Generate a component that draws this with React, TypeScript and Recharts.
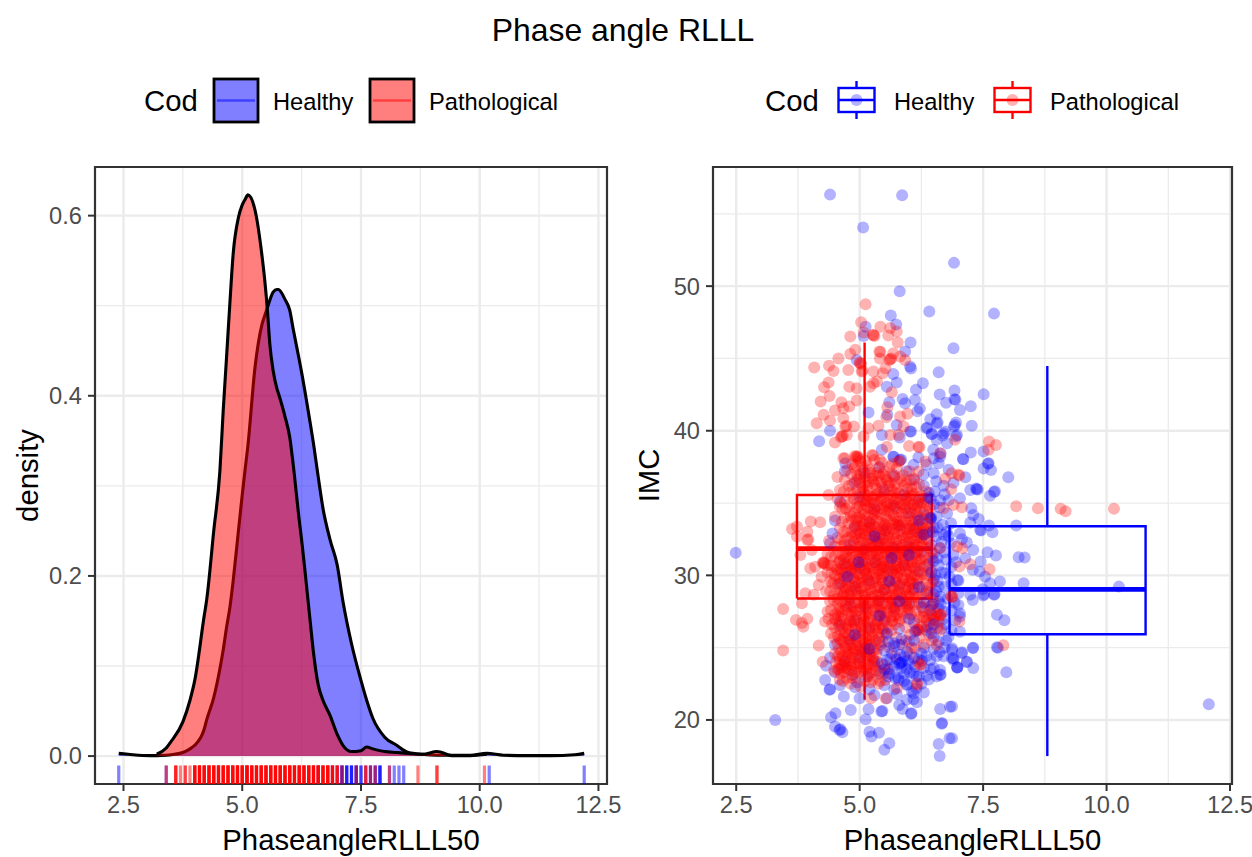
import React from "react";
import {
  ComposedChart, ScatterChart, Area, Scatter, XAxis, YAxis, CartesianGrid, ReferenceArea,
} from "recharts";

const FONT = '"Liberation Sans", Arial, sans-serif';
const BLUE = "#0000FF";
const RED = "#FF0000";

// ---- left panel: density ----
const densityX = [2.4,2.6,2.9,3.2,3.4,3.5,3.75,3.9,4,4.2,4.25,4.4,4.53,4.6,4.67,4.74,4.81,4.92,5,5.06,5.12,5.27,5.41,5.48,5.53,5.58,5.65,5.73,5.76,5.9,6,6.07,6.2,6.25,6.43,6.5,6.6,6.7,6.85,7,7.12,7.3,7.5,7.62,7.75,8,8.25,8.5,8.8,9.1,9.45,9.8,10.15,10.5,11,11.5,12,12.2];
const densityHealthy = [.003,.002,.0006,.0005,.001,.0015,.004,.008,.012,.03,.04,.065,.097,.118,.143,.165,.195,.25,.29,.318,.345,.432,.478,.49,.498,.506,.515,.518,.518,.507,.495,.475,.44,.426,.37,.347,.31,.275,.24,.212,.172,.125,.084,.062,.042,.021,.012,.004,.002,.001,.001,.001,.003,.001,.0005,.0005,.0015,.003];
const densityPathological = [null,null,null,.002,.009,.016,.038,.062,.084,.156,.173,.25,.317,.384,.443,.503,.558,.598,.612,.618,.623,.606,.558,.525,.495,.458,.428,.408,.403,.377,.354,.325,.262,.24,.15,.115,.079,.062,.045,.024,.012,.005,.006,.01,.008,.005,.004,.003,.002,.005,.0003,.0005,.002,null,null,null,null,null];

const rugHealthy = [2.4,3.4,5.1,6.6,6.9,7,7.1,7.1,7.1,7.2,7.2,7.2,7.3,7.3,7.3,7.4,7.4,7.4,7.5,7.5,7.6,7.7,7.7,7.8,7.8,7.9,7.9,7.9,8.1,8.2,8.3,8.4,10.2,12.2];
const rugPathological = [3.4,3.6,3.6,3.6,3.7,3.8,3.8,3.9,
  4,4.1,4.2,4.3,4.4,4.5,4.6,4.7,4.8,4.9,5,5.1,5.2,5.3,5.4,5.5,5.6,5.7,5.8,5.9,6,6.1,6.2,6.3,6.4,6.5,6.6,6.7,6.8,6.9,7,
  4,4.1,4.2,4.3,4.4,4.5,4.6,4.7,4.8,4.9,5,5.1,5.2,5.3,5.4,5.5,5.6,5.7,5.8,5.9,6,6.1,6.2,6.3,6.4,6.5,6.6,6.7,6.8,6.9,7,
  4,4.1,4.2,4.3,4.4,4.5,4.6,4.7,4.8,4.9,5,5.1,5.2,5.3,5.4,5.5,5.6,5.7,5.8,5.9,6,6.1,6.2,6.3,6.4,6.5,6.6,6.7,6.8,6.9,7,
  4,4.1,4.2,4.3,4.4,4.5,4.6,4.7,4.8,4.9,5,5.1,5.2,5.3,5.4,5.5,5.6,5.7,5.8,5.9,6,6.1,6.2,6.3,6.4,6.5,6.6,6.7,6.8,6.9,
  4,4.1,4.2,4.3,4.4,4.5,4.6,4.7,4.8,4.9,5,5.1,5.2,5.3,5.4,5.5,5.6,5.7,5.8,5.9,6,6.1,6.2,6.3,6.4,6.5,6.6,6.7,6.8,
  7.1,7.4,7.6,7.6,7.7,7.8,8.1,8.7,9.1,9.1,10.1];

const leftMajorX = [2.5,5,7.5,10,12.5];
const leftMinorX = [3.75,6.25,8.75,11.25];
const leftMajorY = [0,0.2,0.4,0.6];
const leftMinorY = [0.1,0.3,0.5];
const leftDomainX = [1.9,12.68];
const leftDomainY = [-0.031,0.654];

// ---- right panel: points and boxes ----
const rightMajorX = [2.5,5,7.5,10,12.5];
const rightMinorX = [3.75,6.25,8.75,11.25];
const rightMajorY = [20,30,40,50];
const rightMinorY = [25,35,45,55];
const rightDomainX = [2.03,12.54];
const rightDomainY = [15.57,58.24];

const boxHealthy = { left: 6.82, right: 10.79, center: 8.8, q1: 25.93, median: 29.03, q3: 33.4, low: 17.5, high: 44.48 };
const boxPathological = { left: 3.73, right: 6.46, center: 5.1, q1: 28.4, median: 31.85, q3: 35.56, low: 21.4, high: 46.1 };

const healthyOuter = [
[4.4,56.33],[5.86,56.29],[5.07,54.05],[6.91,51.61],[5.81,49.65],[6.41,48.24],[7.72,48.1],[6.9,45.71],[5.63,47.97],[5.74,47.34],[5.12,47.2],[5.08,46.56],[6.03,46.1],[5.92,45.48],[6.02,44.44],[6.04,44.3],[4.94,44.9],[6.6,44.05],[5.68,43.93],[5.75,43.33],[6.28,43.29],[5.55,43.05],[6.14,42.83],[6.92,42.78],[7.51,42.53],[6.62,42.5],[5.87,42.2],[6.92,42.18],[6.94,42.14],[5.92,41.9],[6.12,42.13],[6.75,41.93],[7.25,41.7],[5.6,41.97],[7.03,41.44],[6.22,41.53],[6.17,41.35],[5.18,41.26],[5.56,41.1],[6.56,41.14],[6.43,40.8],[6.58,40.57],[6.95,40.57],[7.27,40.34],[6.91,40.29],[6.35,40.17],[6.37,40.2],[6.46,39.76],[6.74,39.94],[6.68,39.67],[6.97,39.7],[6.77,39.14],[6.04,39.94],[5.81,39.53],[5.75,40.4],[5.45,39.7],[4.4,40],[4.18,39.28],[7.51,38.56],[7.25,38.49],[7.1,38.03],[7.61,37.75],[6.19,38.17],[6.49,38.68],[6.63,38.2],[5.45,38.68],[5.68,38.2],[4.71,37.75],
[7.6,37.71],[7.51,37.39],[7.66,37.29],[8.01,36.79],[7.14,36.79],[7.37,35.96],[7.36,36],[7.39,35.93],[7.24,35.91],[7.72,35.77],[7.74,35.82],[7.64,35.5],[7.03,35.33],[7.26,34.64],[7.3,34.18],[7.41,33.9],[7.24,33.65],[7.62,33.44],[8.17,33.44],[7.44,33.14],[7.46,33.1],[7.69,32.98],[7.03,32.9],[7.07,32.5],[7.17,32.27],[7.3,31.76],[7.59,31.6],[7.76,31.37],[8.22,31.25],[8.34,31.23],[7.45,30.95],[7.14,31.18],[7.29,30.38],[7.43,30.26],[7.54,29.9],[7.84,29.57],[7.64,29.46],[8.32,29.46],[10.25,29.22],[7.49,29.04],[7.5,28.6],[7.52,28.68],[7.72,28.65],[7.73,28.7],[7.29,28.3],[7.24,28.65],[7.78,27.27],[7.93,26.9],[7.03,27.15],[7.03,26.1],[7.29,24.98],[7.8,25],[7.07,24.61],[7.17,24],[6.9,24.27],[7.3,23.6],[6.98,23.62],[7.97,23.3],[12.07,21.09],[6.87,20.93],[6.87,18.74],
[2.49,31.57],[3.29,20],[4.68,21.62],[4.82,20.69],[4.42,20.19],[4.51,20.46],[4.5,19.54],[4.59,19.31],[4.61,19.35],[4.65,19.15],[5.12,20.05],[5.18,20.74],[5.2,19.19],[5.39,19.12],[5.24,18.85],[5.5,17.93],[5.6,18.39],[5.44,20.58],[5.46,20.62],[5.8,21.04],[5.87,20.76],[6.04,20.42],[6.05,20.46],[6.16,21.22],[6.09,21.43],[6.63,20.76],[6.83,20.92],[6.66,19.73],[6.67,19.78],[6.82,18.73],[6.6,18.34],[6.62,17.51],[4.39,22.08],[4.4,22.12],[4.3,22.77],[4.32,23.74],[4.91,22.26],[6.63,23.11],[6.64,23.15],[6.63,23.46],[6.97,23.62],[7.17,24.02],[7.07,24.68],[6.9,24.15],[6.87,24.84],[7.3,25],[7.78,25.02],[6.36,23.05],[5.95,22.42],[5.97,22.46],[5.79,22.77],[6.06,21.96],[6.8,25.76],[6.87,24.95],[6.87,24.26],[6.98,23.64],[7.0,28.76],[7,27.95],[7.03,27.37],[6.98,29.68],[7,29.62],[6.73,30.14],[6.6,30.7],[6.53,30.02],[6.6,29.22],[6.63,28.52],[6.43,27.6],[6.36,26.45],
[6.56,40.5],[6.93,40.4],[6.02,39.95],[6.46,39.8],[6.7,39.83],[6.95,39.6],[6.56,39.37],[7.09,38.05],[6.64,38.42],[6.5,38.1],[6.36,37.64],[6.6,37.75],[6.09,37.64],[5.69,38.2],[5.82,37.98],[5.84,38.02],[6.5,37.06],[6.29,36.95],[6.8,35.2],[6.63,35.2],[6.43,33.95],[6.44,33.9],[6.42,34],[6.45,33.98],[6.56,34.06],[6.77,34.3],[6.85,33.6],[6.7,32.8],[6.85,32.2],[6.62,31.9],[6.9,31.4],[6.75,31.1],[6.95,30.9],[6.5,31.5],[6.55,32.7],[6.68,33.5],[6.7,36.2],[6.9,36.4],[6.55,36.5],[6.8,37.3]
];

const healthyCore = [
[4.7,37.2],[4.9,36.4],[5.1,37.1],[5.4,37.5],[5.7,36.9],[5.95,37.2],[6.1,36.6],[6.3,36.2],[5.5,35.9],[5.9,35.6],[6.2,35.2],[6.4,35.7],[4.6,35.1],[5,35.4],[5.3,34.6],[5.7,34.8],[6,34.3],[6.3,34.2],[6.5,34.9],[4.5,33.8],[4.9,33.3],[5.2,33.6],[5.5,33.1],[5.8,33.4],[6.1,33.2],[6.35,32.9],[6.5,33.3],[4.4,32.2],[4.8,32.1],[5.1,31.8],[5.4,32.3],[5.7,31.9],[6,32],[6.25,31.6],[6.45,32.1],[4.7,30.8],[5,30.5],[5.3,30.9],[5.6,30.4],[5.9,30.7],[6.2,30.3],[6.4,30.8],[6.5,29.7],[4.6,29.4],[4.9,29.2],[5.2,29.6],[5.5,29],[5.8,29.3],[6.1,29.1],[6.35,28.9],[6.5,28.7],[6.6,28.2],[4.8,28],[5.1,27.8],[5.4,28.2],[5.7,27.7],[6,28],[6.25,27.8],[6.45,27.3],[6.6,27.7],[6.7,27],[4.6,26.6],[4.9,26.9],[5.2,26.4],[5.5,26.8],[5.8,26.3],[6.1,26.7],[6.35,26.2],[6.5,25.7],[6.65,26.3],[6.75,25.5],[4.5,25.2],[4.8,25.5],[5.1,25],[5.4,25.4],[5.7,25.1],[6,25.4],[6.3,25],[6.5,24.9],[6.62,24.7],[4.4,24.3],[4.7,24],[5,24.3],[5.3,24.1],[5.55,24.15],[5.82,23.92],[5.84,23.96],[5.8,23.88],[6.09,23.22],[6.2,24.2],[6.43,24.14],[6.5,23.6],[4.5,23.3],[4.85,23.1],[5.15,23],[5.4,23.2],[5.6,23.5],[5.9,23.2],[6.2,23],[6.4,22.8],[4.6,22.4],[4.95,22.6],[5.2,22.1],[5.5,22.4],[5.7,22.1],[5.9,22.7],[6.15,22.2],[6.3,21.9],[5,21.5],[5.3,21.7],[5.55,21.5],[5.75,21.8],[5.95,21.4],[6.09,21.84],[6.25,22.5],
[6.52,35.8],[6.62,34.7],[6.72,35.6],[6.58,33.3],[6.76,33],[6.66,32.3],[6.8,32.7],[6.58,31.2],[6.72,31.6],[6.86,30.6],[6.66,30.2],[6.82,29.9],[6.58,29.6],[6.72,29.2],[6.86,29.4],[6.64,28],[6.78,28.4],[6.92,28.1],[6.7,27.5],[6.86,27.6],[6.94,26.9],[6.74,26.6],[6.86,26.2],[6.6,25.4],[6.72,25],[6.56,24.4],[6.7,24.4],[6.44,23.5],[6.56,23],[6.3,23.6],[6.12,23.7],[5.98,24.1],[6.26,24.1]
];

const pathologicalOuter = [
[5.12,48.75],[5.03,47.5],[5.42,47.2],[5.62,47.1],[4.81,46.51],[5.08,46.8],[5.28,46.6],[5.27,46.64],[5.3,46.55],[5.58,46.58],[5.75,46.86],[5.77,46.1],[4.91,45.6],[4.81,45.3],[4.57,45],[5.4,45.48],[5.42,45.44],[5.41,45],[5.68,45.36],[5.62,44.95],[5.64,45],[5.6,44.9],[5.82,45.13],[5.92,44.9],[4.08,44.37],[4.38,44.49],[4.47,44.14],[4.77,44.2],[5.01,44.67],[5.03,44.62],[5,44.72],[5.04,44.1],[5.06,44.15],[5.28,44.1],[5.52,44.32],[5.47,43.98],[4.37,43.33],[4.28,43.01],[4.79,43.05],[4.94,42.94],[5.21,43.05],[5.35,43.4],[5.28,43.29],[5.65,42.66],[4.39,42.41],[4.21,42.02],[4.63,41.97],[4.94,42.09],[4.79,41.67],[4.67,41.56],[4.5,41.4],[4.27,41.1],[5.56,41.63],[5.97,41.17],[5.82,40.98],[5.54,40.94],[4.67,40.87],[4.4,40.7],[4.13,40.52],[4.71,40.29],[4.73,40.33],[4.88,40.29],[5.38,40.34],[5.18,40.17],[5.89,40.29],[4.64,39.6],[4.66,39.64],[4.62,39.55],[4.74,39.7],[4.5,39.18],[5.08,39.6],[5.62,39.7],[5.79,39.7],[6,38.95],[6.19,38.9],[6.21,38.86],[5.55,38.9],[6.93,39.37],[7.62,39.25],[7.76,39.02],[7.61,38.68],[4.94,38.2],[4.96,38.24],[4.92,38.16],[4.98,38.1],[4.9,38.26],[4.67,38.1],[5.25,38.33],[5.27,38.28],[5.41,37.98],[5.79,37.87],[5.81,37.9],[6.33,37.87],[6.63,38.45],
[8.17,34.78],[8.61,34.64],[9.07,34.6],[9.17,34.44],[10.15,34.6],[7.07,34.71],[6.9,34.87],[7.63,30.42],[7.24,30.77],[7.02,30.61],[7.08,31.87],[7.02,26.8],[7.91,25.17],[5.53,21.48],[5.23,21.5],[6.16,22.54],
[3.45,27.68],[3.45,24.8],[3.71,26.92],[3.94,26.99],[3.86,26.45],[3.83,26.7],[4.17,25.14],[4.25,24.03],[3.63,33.2],[3.73,33.37],[3.73,32.68],[3.94,33.02],[3.94,32.45],[3.96,32.5],[4.01,33.72],[4.2,33.67],[4.38,32.4],[4.5,34.06],[4.6,34.75],[4.37,35.56],[3.8,31.41],[4.03,31.76],[4,30.49],[4.1,30.6],[4.27,30.84],[4.29,30.8],[4.25,30.88],[4.17,29.34],[3.9,28.76],[3.83,28.07],[4.07,28.65],[4.23,29.9],[4.44,29.45],
[6.86,37.06],[7,36.95],[7.02,36.9],[6.73,36.7],[6.85,35.95],[6.19,37.18],[6.7,34.64],[6.63,31.88],[6.97,32],[6.87,28.52],[6.88,28.48],[6.85,28.56],[6.56,25.18],[6.63,27.26],[6.65,27.3],[6.61,27.2],[6.5,26.91],[6.52,26.95],[6.29,27.14],[6.31,27.1],[6.16,26.22],[6.18,26.26],[6.14,26.18],[6.2,26.2],[6.22,23.8],[6.24,23.85],[6.12,24.95],[5.75,22.2],[5.52,22.76],[6.16,22.42]
];

const pathologicalCore = [
[4.7,38.1],[4.85,37.7],[5,37.9],[5.15,37.6],[5.3,38],[5.45,37.8],[5.6,37.5],[4.9,37.4],[5.05,37.5],[5.2,37.3],[5.5,37.2],[4.75,37.3],[5.75,37.4],[6,37.2],[5.35,37.1],[4.95,36.9],[5.1,36.8],[5.25,36.7],[5.4,36.9],[5.55,36.6],[5.7,36.8],[5.85,36.5],[6.1,36.7],[4.7,36.6],[4.85,36.3],[5,36.4],[5.15,36.2],[5.3,36.3],[5.45,36.1],[5.6,36.2],[5.75,36],[5.9,36.2],[6.05,36],[6.2,36.3],[4.6,35.9],[4.8,35.7],[4.95,35.9],[5.1,35.6],[5.2,35.8],[5.35,35.6],[5.5,35.7],[5.65,35.5],[5.8,35.7],[5.95,35.4],[6.1,35.6],[6.25,35.5],[6.35,35.8],[4.55,35.3],[4.7,35.1],[4.88,35.3],[5.02,35.1],[5.15,35.2],[5.28,35],[5.42,35.2],[5.56,35],[5.7,35.1],[5.84,34.9],[6,35],[6.16,34.8],[6.3,35],[6.42,34.7],[4.65,34.6],[4.8,34.4],[4.95,34.7],[5.08,34.5],[5.22,34.6],[5.36,34.4],[5.5,34.5],[5.64,34.3],[5.78,34.4],[5.92,34.6],[6.06,34.3],[6.22,34.4],[6.38,34.2],[4.7,34],[4.85,33.8],[5,34],[5.13,33.7],[5.27,33.9],[5.4,33.7],[5.55,33.9],[5.68,33.6],[5.83,33.8],[5.97,33.6],[6.12,33.8],[6.27,33.6],[6.42,33.4],[4.6,33.3],[4.75,33.1],[4.9,33.4],[5.05,33.2],[5.18,33.3],[5.32,33],[5.46,33.2],[5.6,33],[5.74,33.3],[5.88,33],[6.02,33.2],[6.17,33],[6.33,33.2],[4.55,32.6],[4.7,32.4],[4.84,32.7],[4.98,32.5],[5.12,32.7],[5.26,32.4],[5.4,32.6],[5.53,32.4],[5.67,32.6],[5.81,32.4],[5.95,32.7],[6.1,32.4],[6.24,32.6],[6.4,32.4],[4.62,32],[4.78,31.8],[4.92,32],[5.06,31.8],[5.2,32],[5.34,31.7],[5.48,31.9],[5.62,31.7],[5.76,32],[5.9,31.7],[6.04,31.9],[6.18,31.7],[6.34,31.9],[6.46,31.6],[4.35,31.5],[4.5,31.3],[4.65,31.4],[4.8,31.2],[4.94,31.4],[5.08,31.2],[5.22,31.4],[5.36,31.1],[5.5,31.3],[5.64,31.1],[5.78,31.3],[5.92,31.1],[6.06,31.3],[6.22,31.1],[6.38,31.2],[4.28,30.9],[4.42,30.7],[4.58,30.9],[4.72,30.6],[4.86,30.8],[5,30.6],[5.14,30.8],[5.28,30.5],[5.42,30.7],[5.56,30.5],[5.7,30.7],[5.84,30.5],[5.98,30.7],[6.13,30.5],[6.3,30.6],[6.44,30.4],[4.35,30.2],[4.5,30],[4.64,30.2],[4.78,30],[4.92,30.2],[5.06,29.9],[5.2,30.1],[5.34,29.9],[5.48,30.1],[5.62,29.9],[5.76,30.1],[5.9,29.8],[6.04,30],[6.2,29.8],[6.36,30],[4.4,29.6],[4.56,29.4],[4.7,29.6],[4.84,29.3],[4.98,29.5],[5.12,29.3],[5.26,29.5],[5.4,29.2],[5.54,29.4],[5.68,29.2],[5.82,29.4],[5.96,29.2],[6.1,29.4],[6.26,29.2],[6.42,29.3],[4.32,28.9],[4.48,28.7],[4.62,28.9],[4.76,28.7],[4.9,28.9],[5.04,28.6],[5.18,28.8],[5.32,28.6],[5.46,28.8],[5.6,28.5],[5.74,28.7],[5.88,28.5],[6.02,28.7],[6.18,28.5],[6.34,28.7],[6.48,28.5],[4.4,28.2],[4.55,28],[4.7,28.2],[4.84,27.9],[4.98,28.1],[5.12,27.9],[5.26,28.1],[5.4,27.8],[5.54,28],[5.68,27.8],[5.82,28],[5.96,27.8],[6.12,28],[6.28,27.8],[6.44,27.9],[4.35,27.5],[4.5,27.3],[4.64,27.5],[4.78,27.3],[4.92,27.5],[5.06,27.2],[5.2,27.4],[5.34,27.2],[5.48,27.4],[5.62,27.1],[5.76,27.3],[5.9,27.1],[6.04,27.3],[6.2,27.1],[6.4,27.2],[6.56,27.4],[4.3,26.8],[4.44,26.6],[4.6,26.8],[4.74,26.5],[4.88,26.7],[5.02,26.5],[5.16,26.7],[5.3,26.4],[5.44,26.6],[5.58,26.4],[5.72,26.6],[5.94,26.4],[6.28,26.5],[6.42,26.7],[6.58,26.4],[4.42,26],[4.56,25.8],[4.7,26],[4.84,25.8],[4.98,26],[5.12,25.7],[5.26,25.9],[5.4,25.7],[5.54,25.9],[5.74,25.7],[6.02,25.9],[6.22,25.7],[6.4,25.9],[4.55,25.3],[4.7,25.1],[4.85,25.3],[5,25.1],[5.14,25.3],[5.28,25],[5.42,25.2],[5.6,25],[5.86,25.2],[6.06,25],[6.3,25.2],[4.5,24.6],[4.65,24.4],[4.78,24.7],[4.92,24.5],[5.06,24.7],[5.2,24.4],[5.34,24.6],[5.72,24.4],[6.02,24.6],[4.52,24],[4.66,23.8],[4.8,24.1],[4.94,23.9],[5.08,24],[5.22,23.8],[5.36,24],[5.5,23.8],[6.18,24],[4.48,23.4],[4.62,23.2],[4.76,23.5],[4.9,23.3],[5.04,23.4],[5.2,23.2],[5.34,23.4],[5.48,23.2],[5.56,23.5],[4.6,22.8],[4.74,22.9],[5.1,22.7],[5.28,22.8],[5.42,22.7],[5.02,22.3],
[4.55,36.8],[5.02,37],[5.18,36.5],[5.38,36.5],[5.62,36.4],[5.08,35.9],[5.25,35.4],[5.48,35.4],[5.75,35.3],[6.02,35.5],[5.12,34.9],[5.35,34.8],[5.6,34.7],[5.9,34.9],[6.12,34.6],[5.1,34.2],[5.3,34.2],[5.52,34.1],[5.74,34],[5.98,34.1],[6.24,33.9],[5.08,33.5],[5.3,33.4],[5.52,33.5],[5.78,33.5],[6.08,33.5],[5,32.9],[5.2,32.8],[5.44,32.8],[5.7,32.9],[5.98,32.9],[6.22,32.9],[4.88,32.3],[5.14,32.2],[5.36,32.2],[5.6,32.2],[5.88,32.1],[6.12,32.1],[4.72,31.6],[5,31.6],[5.26,31.6],[5.54,31.6],[5.82,31.5],[6.12,31.5],[4.6,31],[4.88,31],[5.1,31],[5.32,30.9],[5.58,30.9],[5.88,30.9],[6.16,30.9],[4.55,30.4],[4.84,30.4],[5.12,30.4],[5.38,30.3],[5.66,30.3],[5.94,30.3],[6.24,30.2],[4.6,29.8],[4.9,29.7],[5.16,29.7],[5.44,29.7],[5.72,29.6],[6,29.6],[4.68,29.1],[4.94,29],[5.22,29],[5.5,29],[5.78,28.9],[6.06,29],[4.56,28.4],[4.82,28.4],[5.1,28.3],[5.38,28.3],[5.66,28.3],[5.94,28.2],[4.6,27.7],[4.88,27.7],[5.16,27.7],[5.44,27.6],[5.72,27.6],[6,27.6],[4.5,27],[4.8,26.9],[5.08,27],[5.36,26.9],[5.66,26.9],[4.65,26.3],[4.92,26.2],[5.2,26.2],[5.5,26.1],[4.6,25.6],[4.92,25.6],[5.2,25.5],[4.72,24.8],[5,24.8],[5.28,24.8],[4.6,24.2],[4.86,24.3],[5.14,24.3],[4.7,23.6],[5,23.7],[5.3,23.7],[4.85,22.9],[5.18,23]
];

const pathologicalDense = [
[4.92,37.6],[5.12,37.9],[5.38,37.4],[5.66,37.7],[4.83,37],[5.07,37.2],[5.28,36.9],[5.47,37],[5.66,37],[5.88,36.9],[6.03,36.6],[4.78,36.2],[4.94,36.6],[5.12,36.4],[5.27,36.5],[5.43,36.4],[5.58,36.4],[5.72,36.3],[5.95,36.4],[6.14,36.1],[4.68,35.8],[4.88,35.6],[5.02,35.7],[5.17,35.5],[5.3,35.5],[5.43,35.8],[5.58,35.6],[5.72,35.7],[5.87,35.5],[6.05,35.7],[6.2,35.4],[6.32,35.3],[4.62,35],[4.8,34.9],[4.94,35],[5.08,35.2],[5.22,35],[5.36,35.1],[5.5,34.9],[5.64,34.9],[5.78,35],[5.93,35.1],[6.07,34.9],[6.24,35],[6.38,34.9],[4.72,34.6],[4.88,34.3],[5.03,34.3],[5.16,34.7],[5.3,34.5],[5.44,34.6],[5.58,34.5],[5.72,34.6],[5.86,34.3],[6.02,34.6],[6.16,34.2],[6.32,34.5],[4.64,33.7],[4.78,33.6],[4.93,33.8],[5.06,33.8],[5.2,33.7],[5.34,33.8],[5.48,33.6],[5.62,33.8],[5.76,33.7],[5.9,33.7],[6.05,33.8],[6.2,33.5],[6.36,33.6],[4.68,33],[4.83,33],[4.97,33.1],[5.12,33.1],[5.25,33.1],[5.39,33],[5.53,33.1],[5.67,33.2],[5.81,33.1],[5.95,33.2],[6.1,33],[6.26,33],[6.42,33],[4.62,32.5],[4.76,32.6],[4.92,32.6],[5.05,32.6],[5.19,32.5],[5.33,32.6],[5.47,32.5],[5.6,32.6],[5.74,32.5],[5.88,32.6],[6.03,32.5],[6.17,32.6],[6.32,32.5],[4.5,32],[4.7,32.1],[4.85,31.9],[5,32],[5.13,31.9],[5.27,32],[5.41,31.9],[5.55,32],[5.69,31.8],[5.83,31.9],[5.97,31.8],[6.11,31.9],[6.26,32],[6.42,31.9],[4.42,31.3],[4.58,31.5],[4.72,31.3],[4.87,31.5],[5.01,31.3],[5.15,31.5],[5.29,31.3],[5.43,31.5],[5.57,31.3],[5.71,31.4],[5.85,31.3],[5.99,31.4],[6.14,31.3],[6.3,31.4],[6.46,31.2],[4.35,30.7],[4.5,30.6],[4.65,30.7],[4.79,30.7],[4.93,30.7],[5.07,30.7],[5.21,30.6],[5.35,30.7],[5.49,30.6],[5.63,30.7],[5.77,30.6],[5.91,30.7],[6.06,30.6],[6.22,30.7],[6.37,30.7],[4.43,30.2],[4.57,30.2],[4.71,30.2],[4.85,30.2],[4.99,30.1],[5.13,30.1],[5.27,30.2],[5.41,30.1],[5.55,30.2],[5.69,30.1],[5.83,30.2],[5.97,30],[6.12,30],[6.28,30.1],[6.43,30],[4.48,29.5],[4.63,29.5],[4.77,29.5],[4.91,29.5],[5.05,29.5],[5.19,29.4],[5.33,29.5],[5.47,29.5],[5.61,29.5],[5.75,29.5],[5.89,29.4],[6.03,29.5],[6.18,29.4],[6.34,29.4],[6.48,29.5],[4.4,28.9],[4.55,28.8],[4.69,28.8],[4.83,28.9],[4.97,28.8],[5.11,28.7],[5.25,28.8],[5.39,28.7],[5.53,28.8],[5.67,28.7],[5.81,28.8],[5.95,28.7],[6.1,28.8],[6.26,28.7],[6.41,28.8],[4.47,28.3],[4.63,28.2],[4.77,28.3],[4.91,28.1],[5.05,28.2],[5.19,28.1],[5.33,28.2],[5.47,28.1],[5.61,28.2],[5.75,28.1],[5.89,28.2],[6.04,28.1],[6.2,28.1],[6.36,28.2],[6.5,28.1],[4.42,27.6],[4.57,27.6],[4.71,27.6],[4.85,27.5],[4.99,27.6],[5.13,27.5],[5.27,27.6],[5.41,27.5],[5.55,27.5],[5.69,27.5],[5.83,27.5],[5.97,27.4],[6.12,27.5],[6.3,27.5],[6.48,27.6],[4.37,27],[4.52,26.9],[4.67,27],[4.81,26.8],[4.95,26.9],[5.09,26.8],[5.23,26.9],[5.37,26.8],[5.51,26.9],[5.65,26.8],[5.8,26.8],[6.1,26.9],[6.36,26.9],[6.5,27.1],[6.6,26.8],[4.5,26.4],[4.62,26.2],[4.77,26.3],[4.91,26.4],[5.05,26.2],[5.19,26.3],[5.33,26.2],[5.47,26.3],[5.64,26.2],[6.24,26.4],[6.44,26.3],[6.62,26.2],[4.48,25.7],[4.63,25.5],[4.78,25.6],[4.91,25.4],[5.06,25.5],[5.19,25.6],[5.33,25.5],[5.47,25.4],[5.94,25.5],[6.46,25.5],[4.58,24.9],[4.72,25],[4.86,24.9],[5.03,24.9],[5.17,24.9],[5.36,24.9],[4.56,24.4],[4.72,24.3],[4.85,24.6],[5,24.4],[5.13,24.5],[5.27,24.3],[4.6,23.9],[4.73,23.7],[4.87,23.8],[5.01,23.9],[5.15,23.8],[5.29,23.9],[4.55,23.5],[4.69,23.3],[4.83,23.4],[4.97,23.3],[5.11,23.4],[5.26,23.3],[5.41,23.4],[4.66,22.7],[4.82,22.5],[5.22,22.6],[5.38,22.5],
[4.95,34],[5.25,33.5],[5.55,33.3],[5.85,33.5],[6.15,33.3],[4.95,33.5],[5.35,32.3],[5.65,31.9],[5.95,32.2],[6.25,32.3],[5.05,31.5],[5.35,31.4],[5.65,31.5],[5.95,31.6],[4.75,30.9],[5.05,30.9],[5.45,30.9],[5.75,30.9],[6.05,30.9],[4.8,30.3],[5.1,30.3],[5.42,30.4],[5.72,30.4],[6.02,30.3],[4.85,29.8],[5.15,29.9],[5.45,29.9],[5.75,29.9],[6.05,29.8],[4.72,29.1],[5.02,29.1],[5.32,29.1],[5.62,29.1],[5.92,29],[4.8,28.5],[5.1,28.5],[5.42,28.5],[5.72,28.4],[6,28.5],[4.72,27.9],[5.02,27.8],[5.32,27.8],[5.62,27.8],[5.9,27.8],[4.62,27.2],[4.92,27.2],[5.22,27.1],[5.52,27.1],[5.82,27],[4.72,26.6],[5.02,26.7],[5.32,26.6],[4.78,25.9],[5.08,26],[5.38,26],[4.8,25.2],[5.1,25.3],[4.78,24.5],[5.12,24.7],[4.8,23.9],[5.08,23.6],[4.62,23.6],[4.92,23]
];

const pathologicalPeak = [
[4.98,36.7],[5.21,37.1],[5.52,36.8],[5.81,36.7],[5.06,36.1],[5.34,36],[5.66,35.9],[5.97,36],[5.14,35.1],[5.44,35.3],[5.69,35.3],[5.98,35.3],[6.18,35],[5,34.8],[5.27,34.3],[5.56,34.8],[5.82,34.7],[6.1,34.9],[4.82,34.1],[5.17,34.1],[5.42,34.2],[5.69,34.1],[5.94,34.3],[6.18,34],[5.02,33.4],[5.22,33.3],[5.47,33.4],[5.72,33.5],[6.02,33.4],[6.28,33.3],[4.9,32.8],[5.1,32.9],[5.3,32.9],[5.58,32.8],[5.84,32.8],[6.06,32.8],[6.3,32.8],[5.02,32.3],[5.24,32.2],[5.5,32.2],[5.74,32.3],[6,32.3],[6.2,32.2],[4.82,31.7],[5.12,31.7],[5.38,31.7],[5.6,31.6],[5.88,31.6],[6.16,31.6],[4.68,31.1],[4.98,31.1],[5.24,31.1],[5.5,31],[5.74,31.1],[6,31.1],[6.26,31.1],[4.62,30.4],[4.9,30.5],[5.18,30.5],[5.48,30.5],[5.8,30.4],[6.1,30.5],[4.68,29.9],[5,29.8],[5.3,29.8],[5.58,29.7],[5.88,29.7],[6.16,29.7],[4.78,29.2],[5.08,29.2],[5.38,29.2],[5.7,29.1],[6,29.2],[4.66,28.6],[4.94,28.6],[5.24,28.5],[5.54,28.5],[5.84,28.6],[6.12,28.5],[4.76,27.8],[5.08,28],[5.36,28],[5.64,28],[5.94,28],[4.56,27.2],[4.84,27.2],[5.12,27.2],[5.42,27.3],[5.7,27.2],[4.58,26.5],[4.84,26.5],[5.12,26.4],[5.4,26.4],[4.68,25.8],[4.98,25.8],[5.26,25.7],[4.68,25.4],[4.94,25.2],[5.22,25.2],[4.62,24.7],[4.9,24.8],[5.2,24.6],[4.68,24.1],[4.98,24.1],[5.26,24.1],[4.58,23.5],[4.82,23.7],[5.14,23.5]
];

const healthyLate = [
[6.4,35.4],[6.44,35.3],[6.2,33.8],[6.3,32.8],[6,31.4],[5.3,32.7],[5.6,29.6],[6.2,29.2],[5.8,28.2],[5.4,27.2],[6,27],[6.3,28.1],[5.55,26],[5.85,25.6],[5.7,25.3],[6.1,25.5],[5.5,24.8],[5.65,24.6],[5.9,24.4],[5.75,24.2],[5.82,24.5],[5.96,24.7],[5.45,23.9],[6,23.9],[5.6,23.2],[5.84,23.6],[6.02,23.3],[5.78,22.9],[4.9,25.9],[5.2,24.9],[5.65,31.2],[4.45,32.9],[4.75,29.9],[6.12,26.1],[6.25,24.6],[6.45,26],[6.45,30.2],[6.55,28.9],[4.98,30.9],
[5.58,25.4],[5.8,25.2],[5.62,24.2],[5.86,24],[5.7,23.7],[5.95,23.5],[5.5,23.5],[5.72,22.9],[5.58,23],[6.1,24.3],[6.35,24.4],[6.15,23],[6.5,26.6],[6.48,28],[6.5,31],[6.48,33]
];

const toRows = (list: number[][]) => list.map(([x, y]) => ({ x, y }));
const densityRows = densityX.map((x, i) => ({ x, Healthy: densityHealthy[i], Pathological: densityPathological[i] }));
const rugRows = (list: number[]) => list.map((x) => ({ x, y: leftDomainY[0] }));

const Dot = (color: string) => (p: any) => <circle cx={p.cx} cy={p.cy} r={6} fill={color} fillOpacity={0.3} />;
const RugTick = (color: string) => (p: any) => (
  <line x1={p.cx} x2={p.cx} y1={p.cy} y2={p.cy - 18.5} stroke={color} strokeOpacity={0.5} strokeWidth={3.2} />
);
const NoMark = () => null;

const tickStyle = { fontSize: 23.7, fill: "#4D4D4D", fontFamily: FONT };
const labelStyle = { fontSize: 29.3, fill: "#000", fontFamily: FONT };
const tickLine = { stroke: "#333333", strokeWidth: 2 };
const minorGrid = { stroke: "#EBEBEB", strokeWidth: 1.3 };
const majorGrid = { stroke: "#EBEBEB", strokeWidth: 2.4 };

function LegendLeftKey({ x, color, lineColor }: { x: number; color: string; lineColor: string }) {
  return (
    <g>
      <rect x={x} y={79} width={44} height={43} fill={color} fillOpacity={0.5} stroke="#000" strokeWidth={2.8} />
      <line x1={x + 3} x2={x + 41} y1={100.5} y2={100.5} stroke={lineColor} strokeOpacity={0.5} strokeWidth={2.4} />
    </g>
  );
}
function LegendRightKey({ x, color }: { x: number; color: string }) {
  return (
    <g stroke={color} strokeWidth={2.4} fill="none">
      <line x1={x + 18} x2={x + 18} y1={81} y2={88} />
      <line x1={x + 18} x2={x + 18} y1={112} y2={119} />
      <rect x={x} y={88} width={36} height={24} />
      <line x1={x} x2={x + 36} y1={100} y2={100} />
      <circle cx={x + 18} cy={100} r={6} fill={color} fillOpacity={0.3} stroke="none" />
    </g>
  );
}

function Overlay() {
  const t = { fontFamily: FONT, fill: "#000" };
  return (
    <svg width={1252} height={857} style={{ position: "absolute", left: 0, top: 0 }}>
      <text x={623} y={41} textAnchor="middle" fontSize={31.9} {...t}>Phase angle RLLL</text>
      <text x={144} y={111} fontSize={29.3} {...t}>Cod</text>
      <LegendLeftKey x={214} color={BLUE} lineColor={BLUE} />
      <text x={273} y={109.5} fontSize={23.7} {...t}>Healthy</text>
      <LegendLeftKey x={370} color={RED} lineColor={RED} />
      <text x={429} y={109.5} fontSize={23.7} {...t}>Pathological</text>
      <text x={765} y={111} fontSize={29.3} {...t}>Cod</text>
      <LegendRightKey x={838.5} color={BLUE} />
      <text x={894} y={109.5} fontSize={23.7} {...t}>Healthy</text>
      <LegendRightKey x={994.5} color={RED} />
      <text x={1050} y={109.5} fontSize={23.7} {...t}>Pathological</text>
    </svg>
  );
}

function DensityPanel() {
  return (
    <div style={{ position: "absolute", left: 0, top: 0 }}>
      <ComposedChart width={630} height={857} data={densityRows} margin={{ top: 167, right: 23, bottom: 0, left: 0 }}>
        <CartesianGrid {...minorGrid} horizontalValues={leftMinorY} verticalValues={leftMinorX} />
        <CartesianGrid {...majorGrid} horizontalValues={leftMajorY} verticalValues={leftMajorX} />
        <XAxis dataKey="x" type="number" domain={leftDomainX} ticks={leftMajorX} allowDataOverflow height={73}
          axisLine={false} tick={tickStyle} tickLine={tickLine} tickSize={7} tickMargin={5} interval={0}
          tickFormatter={(v: number) => v.toFixed(1)}
          label={{ value: "PhaseangleRLLL50", position: "insideBottom", offset: 7, style: labelStyle }} />
        <YAxis type="number" domain={leftDomainY} ticks={leftMajorY} allowDataOverflow width={95}
          axisLine={false} tick={tickStyle} tickLine={tickLine} tickSize={7} tickMargin={6} interval={0}
          tickFormatter={(v: number) => v.toFixed(1)}
          label={{ value: "density", angle: -90, position: "insideLeft", offset: 28, style: { ...labelStyle, textAnchor: "middle" } }} />
        <Area dataKey="Healthy" type="monotone" fill={BLUE} fillOpacity={0.5} stroke="#000" strokeWidth={3.1} dot={false} activeDot={false} isAnimationActive={false} />
        <Area dataKey="Pathological" type="monotone" fill={RED} fillOpacity={0.5} stroke="#000" strokeWidth={3.1} dot={false} activeDot={false} isAnimationActive={false} />
        <Scatter data={rugRows(rugHealthy)} dataKey="y" shape={RugTick(BLUE)} isAnimationActive={false} />
        <Scatter data={rugRows(rugPathological)} dataKey="y" shape={RugTick(RED)} isAnimationActive={false} />
        <ReferenceArea x1={leftDomainX[0]} x2={leftDomainX[1]} y1={leftDomainY[0]} y2={leftDomainY[1]} fill="none" stroke="#333333" strokeWidth={2.2} ifOverflow="visible" />
      </ComposedChart>
    </div>
  );
}

function BoxMarks(box: typeof boxHealthy, color: string, key: string) {
  const outline = [
    { x: box.left, y: box.q1 }, { x: box.left, y: box.q3 }, { x: box.right, y: box.q3 }, { x: box.right, y: box.q1 }, { x: box.left, y: box.q1 },
  ];
  const median = [{ x: box.left, y: box.median }, { x: box.right, y: box.median }];
  const upper = [{ x: box.center, y: box.q3 }, { x: box.center, y: box.high }];
  const lower = [{ x: box.center, y: box.q1 }, { x: box.center, y: box.low }];
  const thin = { stroke: color, strokeWidth: 2.4, fill: "none" };
  const thick = { stroke: color, strokeWidth: 4.8, fill: "none" };
  return [
    <Scatter key={key + "b"} data={outline} shape={NoMark} line={thin} lineType="joint" isAnimationActive={false} />,
    <Scatter key={key + "m"} data={median} shape={NoMark} line={thick} lineType="joint" isAnimationActive={false} />,
    <Scatter key={key + "u"} data={upper} shape={NoMark} line={thin} lineType="joint" isAnimationActive={false} />,
    <Scatter key={key + "l"} data={lower} shape={NoMark} line={thin} lineType="joint" isAnimationActive={false} />,
  ];
}

function PointsPanel() {
  return (
    <div style={{ position: "absolute", left: 630, top: 0 }}>
      <ScatterChart width={622} height={857} margin={{ top: 167, right: 20, bottom: 0, left: 0 }}>
        <CartesianGrid {...minorGrid} horizontalValues={rightMinorY} verticalValues={rightMinorX} />
        <CartesianGrid {...majorGrid} horizontalValues={rightMajorY} verticalValues={rightMajorX} />
        <XAxis dataKey="x" type="number" domain={rightDomainX} ticks={rightMajorX} allowDataOverflow height={73}
          axisLine={false} tick={tickStyle} tickLine={tickLine} tickSize={7} tickMargin={5} interval={0}
          tickFormatter={(v: number) => v.toFixed(1)}
          label={{ value: "PhaseangleRLLL50", position: "insideBottom", offset: 7, style: labelStyle }} />
        <YAxis dataKey="y" type="number" domain={rightDomainY} ticks={rightMajorY} allowDataOverflow width={83}
          axisLine={false} tick={tickStyle} tickLine={tickLine} tickSize={7} tickMargin={6} interval={0}
          label={{ value: "IMC", angle: -90, position: "insideLeft", offset: 19, style: { ...labelStyle, textAnchor: "middle" } }} />
        {BoxMarks(boxHealthy, BLUE, "h")}
        {BoxMarks(boxPathological, RED, "p")}
        <Scatter data={toRows(healthyOuter)} shape={Dot(BLUE)} isAnimationActive={false} />
        <Scatter data={toRows(healthyCore)} shape={Dot(BLUE)} isAnimationActive={false} />
        <Scatter data={toRows(pathologicalOuter)} shape={Dot(RED)} isAnimationActive={false} />
        <Scatter data={toRows(pathologicalCore)} shape={Dot(RED)} isAnimationActive={false} />
        <Scatter data={toRows(pathologicalDense)} shape={Dot(RED)} isAnimationActive={false} />
        <Scatter data={toRows(pathologicalPeak)} shape={Dot(RED)} isAnimationActive={false} />
        <Scatter data={toRows(healthyLate)} shape={Dot(BLUE)} isAnimationActive={false} />
        <ReferenceArea x1={rightDomainX[0]} x2={rightDomainX[1]} y1={rightDomainY[0]} y2={rightDomainY[1]} fill="none" stroke="#333333" strokeWidth={2.2} ifOverflow="visible" />
      </ScatterChart>
    </div>
  );
}

export default function App() {
  return (
    <div style={{ position: "absolute", left: 0, top: 0, width: 1252, height: 857, background: "#fff", overflow: "hidden" }}>
      <Overlay />
      <DensityPanel />
      <PointsPanel />
    </div>
  );
}
